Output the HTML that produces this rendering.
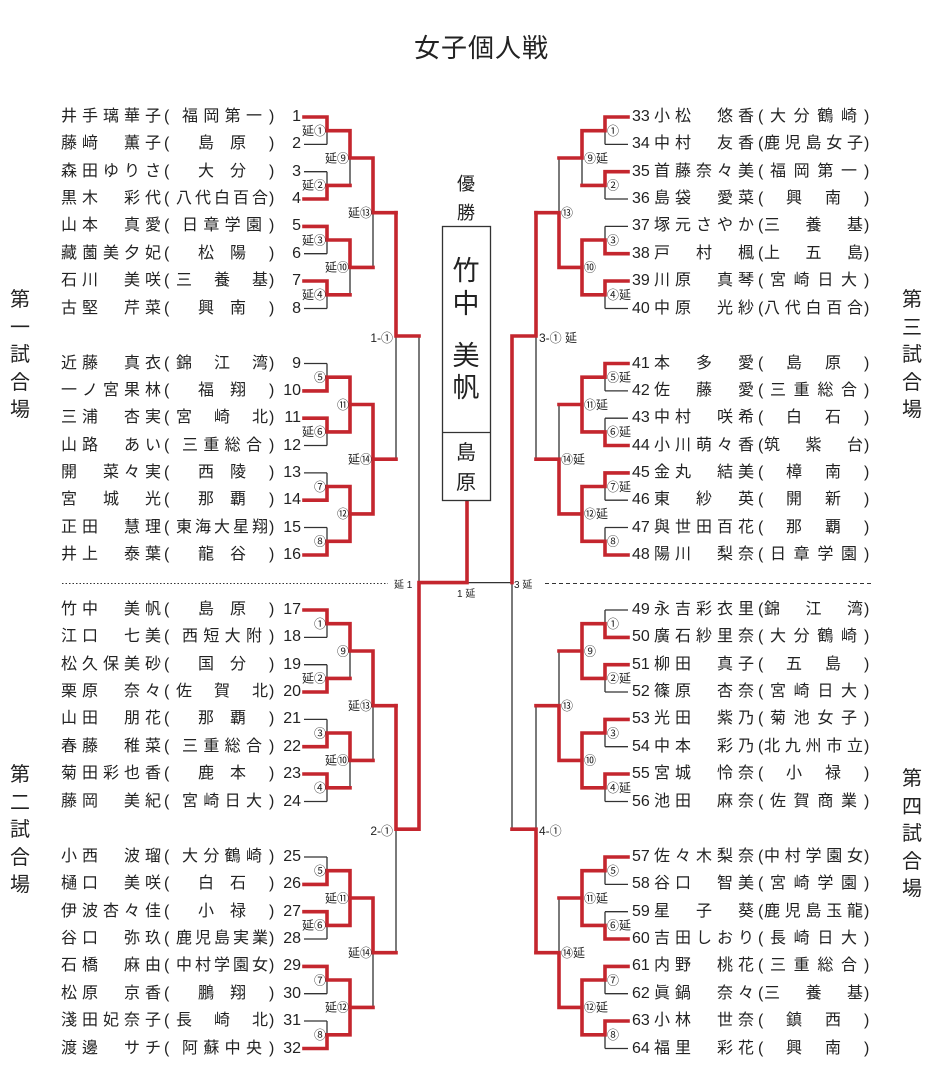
<!DOCTYPE html>
<html lang="ja"><head><meta charset="utf-8">
<style>
html,body{margin:0;padding:0;background:#fff;}
body{width:941px;height:1077px;position:relative;overflow:hidden;font-family:"Liberation Sans","Noto Sans CJK JP",sans-serif;color:#222;}
svg{position:absolute;left:0;top:0;}
.r{position:absolute;left:0;width:941px;height:22px;line-height:22px;font-size:16px;}
.r span{position:absolute;top:0;display:block;}
.n,.s{text-align:justify;text-align-last:justify;}
.L .n{left:61px;width:100px;}
.L .o{left:164px;}
.L .s{left:176px;width:92px;box-sizing:border-box;}
.L .c{left:269px;}
.L .u{left:276px;width:25px;text-align:right;}
.R .u{left:632px;}
.R .n{left:654px;width:100px;}
.R .o{left:758px;}
.R .s{left:764px;width:99px;box-sizing:border-box;}
.R .c{left:864px;}
.s.s2{padding:0 22px;}
.s.s4{padding:0 6px;}
.side{position:absolute;font-size:20px;line-height:27.5px;width:24px;text-align:center;}
</style></head><body>
<div style="position:absolute;left:0;width:941px;top:28px;text-align:center;font-size:26px;letter-spacing:1px;padding-left:22px;box-sizing:border-box;">女子個人戦</div>

<div class="side" style="left:8px;top:287px;">第<br>一<br>試<br>合<br>場</div>
<div class="side" style="left:8px;top:762px;">第<br>二<br>試<br>合<br>場</div>
<div class="side" style="left:900px;top:287px;">第<br>三<br>試<br>合<br>場</div>
<div class="side" style="left:900px;top:766px;">第<br>四<br>試<br>合<br>場</div>

<svg width="941" height="1077" viewBox="0 0 941 1077">
<defs>
<path id="st" d="M304,0H327M304,27.4H327M304,54.7H327M304,82H327M304,109.4H327M304,136.7H327M304,164H327M304,191.5H327M327,0V27.4M327,54.7V82M327,109.4V136.7M327,164V191.5M350,13.7V68.4M350,123V177.8M373,41V150.4" fill="none" stroke="#333" stroke-width="1.3"/>
</defs>
<g fill="none" stroke="#333" stroke-width="1.3">
<use href="#st" transform="translate(0,117)"/>
<use href="#st" transform="translate(0,363.5)"/>
<use href="#st" transform="translate(0,610)"/>
<use href="#st" transform="translate(0,857)"/>
<use href="#st" transform="translate(932,117) scale(-1,1)"/>
<use href="#st" transform="translate(932,363.5) scale(-1,1)"/>
<use href="#st" transform="translate(932,610) scale(-1,1)"/>
<use href="#st" transform="translate(932,857) scale(-1,1)"/>
<path d="M396,212.7V459.2M396,705.7V952.7M419,336V829.2M536,212.7V459.2M536,705.7V952.7M512,336V829.2M512,582.6H467"/>
</g>
<g fill="none" stroke="#333" stroke-width="1">
<path d="M62,583.5H388" stroke-dasharray="1.5,2"/>
<path d="M545,583.5H872" stroke-dasharray="4,3"/>
</g>
<g fill="none" stroke="#c4262e" stroke-width="3.6" stroke-linejoin="miter" stroke-linecap="square">
<path transform="translate(0,117)" d="M304,0H327V13.7H350 M304,82H327V68.4H350 M304,109.4H327V123H350 M304,164H327V177.8H350 M350,13.7V41H373 M350,123V150.4H373 M373,41V95.7H396"/>
<path transform="translate(0,363.5)" d="M304,27.4H327V13.7H350 M304,54.7H327V68.4H350 M304,136.7H327V123H350 M304,191.5H327V177.8H350 M350,13.7V68.4M350,41H373 M350,123V177.8M350,150.4H373 M373,41V150.4M373,95.7H396"/>
<path transform="translate(0,610)" d="M304,0H327V13.7H350 M304,82H327V68.4H350 M304,136.7H327V123H350 M304,164H327V177.8H350 M350,13.7V41H373 M350,123V150.4H373 M373,41V95.7H396"/>
<path transform="translate(0,857)" d="M304,27.4H327V13.7H350 M304,54.7H327V68.4H350 M304,109.4H327V123H350 M304,191.5H327V177.8H350 M350,13.7V68.4M350,41H373 M350,123V177.8M350,150.4H373 M373,41V95.7H396"/>
<path transform="translate(932,117) scale(-1,1)" d="M304,0H327V13.7H350 M304,54.7H327V68.4H350 M304,136.7H327V123H350 M304,164H327V177.8H350 M350,13.7V41H373 M350,123V177.8M350,150.4H373 M373,150.4V95.7H396"/>
<path transform="translate(932,363.5) scale(-1,1)" d="M304,0H327V13.7H350 M304,82H327V68.4H350 M304,109.4H327V123H350 M304,191.5H327V177.8H350 M350,13.7V68.4M350,41H373 M350,123V177.8M350,150.4H373 M373,150.4V95.7H396"/>
<path transform="translate(932,610) scale(-1,1)" d="M304,27.4H327V13.7H350 M304,54.7H327V68.4H350 M304,109.4H327V123H350 M304,164H327V177.8H350 M350,13.7V68.4M350,41H373 M350,123V177.8M350,150.4H373 M373,150.4V95.7H396"/>
<path transform="translate(932,857) scale(-1,1)" d="M304,0H327V13.7H350 M304,82H327V68.4H350 M304,109.4H327V123H350 M304,164H327V177.8H350 M350,13.7V68.4M350,41H373 M350,123V177.8M350,150.4H373 M373,150.4V95.7H396"/>
<path d="M396,212.7V336H419 M396,705.7V829.2H419 M419,829.2V582.6H467V500 M536,212.7V336H512 M536,952.7V829.2H512 M512,336V582.6"/>
</g>
<rect x="442.5" y="226.5" width="48" height="274" fill="#fff" stroke="#333" stroke-width="1.3"/>
<line x1="442.5" y1="432.5" x2="490.5" y2="432.5" stroke="#333" stroke-width="1.3"/>
<g font-family="Liberation Sans,Noto Sans CJK JP,sans-serif" fill="#222">
<text x="466" y="190" font-size="18" text-anchor="middle">優</text>
<text x="466" y="219" font-size="18" text-anchor="middle">勝</text>
<text x="466" y="280" font-size="27" text-anchor="middle">竹</text>
<text x="466" y="313" font-size="27" text-anchor="middle">中</text>
<text x="466" y="365" font-size="27" text-anchor="middle">美</text>
<text x="466" y="397" font-size="27" text-anchor="middle">帆</text>
<text x="466" y="459" font-size="20" text-anchor="middle">島</text>
<text x="466" y="489" font-size="20" text-anchor="middle">原</text>
</g>
<g font-family="Liberation Sans,Noto Sans CJK JP,sans-serif" fill="#222" font-size="12">
<text x="393" y="342" text-anchor="end">1-①</text>
<text x="393" y="835" text-anchor="end">2-①</text>
<text x="539" y="342">3-① 延</text>
<text x="539" y="835">4-①</text>
<text x="394" y="588" font-size="10">延 1</text>
<text x="457" y="597" font-size="10">1 延</text>
<text x="514" y="588" font-size="10">3 延</text>
</g>
<g font-family="Liberation Sans,Noto Sans CJK JP,sans-serif" fill="#222" font-size="12">
<g text-anchor="end" transform="translate(0,117)"><text x="326" y="18">延①</text><text x="326" y="72.7">延②</text><text x="326" y="127.3">延③</text><text x="326" y="182">延④</text><text x="349" y="45.3">延⑨</text><text x="349" y="154.7">延⑩</text><text x="372" y="100">延⑬</text></g>
<g text-anchor="end" transform="translate(0,363.5)"><text x="326" y="18">⑤</text><text x="326" y="72.7">延⑥</text><text x="326" y="127.3">⑦</text><text x="326" y="182">⑧</text><text x="349" y="45.3">⑪</text><text x="349" y="154.7">⑫</text><text x="372" y="100">延⑭</text></g>
<g text-anchor="end" transform="translate(0,610)"><text x="326" y="18">①</text><text x="326" y="72.7">延②</text><text x="326" y="127.3">③</text><text x="326" y="182">④</text><text x="349" y="45.3">⑨</text><text x="349" y="154.7">延⑩</text><text x="372" y="100">延⑬</text></g>
<g text-anchor="end" transform="translate(0,857)"><text x="326" y="18">⑤</text><text x="326" y="72.7">延⑥</text><text x="326" y="127.3">⑦</text><text x="326" y="182">⑧</text><text x="349" y="45.3">延⑪</text><text x="349" y="154.7">延⑫</text><text x="372" y="100">延⑭</text></g>
<g transform="translate(0,117)"><text x="607" y="18">①</text><text x="607" y="72.7">②</text><text x="607" y="127.3">③</text><text x="607" y="182">④延</text><text x="584" y="45.3">⑨延</text><text x="584" y="154.7">⑩</text><text x="561" y="100">⑬</text></g>
<g transform="translate(0,363.5)"><text x="607" y="18">⑤延</text><text x="607" y="72.7">⑥延</text><text x="607" y="127.3">⑦延</text><text x="607" y="182">⑧</text><text x="584" y="45.3">⑪延</text><text x="584" y="154.7">⑫延</text><text x="561" y="100">⑭延</text></g>
<g transform="translate(0,610)"><text x="607" y="18">①</text><text x="607" y="72.7">②延</text><text x="607" y="127.3">③</text><text x="607" y="182">④延</text><text x="584" y="45.3">⑨</text><text x="584" y="154.7">⑩</text><text x="561" y="100">⑬</text></g>
<g transform="translate(0,857)"><text x="607" y="18">⑤</text><text x="607" y="72.7">⑥延</text><text x="607" y="127.3">⑦</text><text x="607" y="182">⑧</text><text x="584" y="45.3">⑪延</text><text x="584" y="154.7">⑫延</text><text x="561" y="100">⑭延</text></g>
</g>
</svg>

<div class="r L" style="top:106px"><span class="n">井手璃華子</span><span class="o">(</span><span class="s s4">福岡第一</span><span class="c">)</span><span class="u">1</span></div>
<div class="r L" style="top:133.4px"><span class="n">藤﨑　薫子</span><span class="o">(</span><span class="s s2">島原</span><span class="c">)</span><span class="u">2</span></div>
<div class="r L" style="top:160.7px"><span class="n">森田ゆりさ</span><span class="o">(</span><span class="s s2">大分</span><span class="c">)</span><span class="u">3</span></div>
<div class="r L" style="top:188px"><span class="n">黒木　彩代</span><span class="o">(</span><span class="s">八代白百合</span><span class="c">)</span><span class="u">4</span></div>
<div class="r L" style="top:215.4px"><span class="n">山本　真愛</span><span class="o">(</span><span class="s s4">日章学園</span><span class="c">)</span><span class="u">5</span></div>
<div class="r L" style="top:242.7px"><span class="n">藏薗美夕妃</span><span class="o">(</span><span class="s s2">松陽</span><span class="c">)</span><span class="u">6</span></div>
<div class="r L" style="top:270px"><span class="n">石川　美咲</span><span class="o">(</span><span class="s">三養基</span><span class="c">)</span><span class="u">7</span></div>
<div class="r L" style="top:297.5px"><span class="n">古堅　芹菜</span><span class="o">(</span><span class="s s2">興南</span><span class="c">)</span><span class="u">8</span></div>

<div class="r L" style="top:352.5px"><span class="n">近藤　真衣</span><span class="o">(</span><span class="s">錦江湾</span><span class="c">)</span><span class="u">9</span></div>
<div class="r L" style="top:379.9px"><span class="n">一ノ宮果林</span><span class="o">(</span><span class="s s2">福翔</span><span class="c">)</span><span class="u">10</span></div>
<div class="r L" style="top:407.2px"><span class="n">三浦　杏実</span><span class="o">(</span><span class="s">宮崎北</span><span class="c">)</span><span class="u">11</span></div>
<div class="r L" style="top:434.5px"><span class="n">山路　あい</span><span class="o">(</span><span class="s s4">三重総合</span><span class="c">)</span><span class="u">12</span></div>
<div class="r L" style="top:461.9px"><span class="n">開　菜々実</span><span class="o">(</span><span class="s s2">西陵</span><span class="c">)</span><span class="u">13</span></div>
<div class="r L" style="top:489.2px"><span class="n">宮　城　光</span><span class="o">(</span><span class="s s2">那覇</span><span class="c">)</span><span class="u">14</span></div>
<div class="r L" style="top:516.5px"><span class="n">正田　慧理</span><span class="o">(</span><span class="s">東海大星翔</span><span class="c">)</span><span class="u">15</span></div>
<div class="r L" style="top:544px"><span class="n">井上　泰葉</span><span class="o">(</span><span class="s s2">龍谷</span><span class="c">)</span><span class="u">16</span></div>

<div class="r L" style="top:599px"><span class="n">竹中　美帆</span><span class="o">(</span><span class="s s2">島原</span><span class="c">)</span><span class="u">17</span></div>
<div class="r L" style="top:626.4px"><span class="n">江口　七美</span><span class="o">(</span><span class="s s4">西短大附</span><span class="c">)</span><span class="u">18</span></div>
<div class="r L" style="top:653.7px"><span class="n">松久保美砂</span><span class="o">(</span><span class="s s2">国分</span><span class="c">)</span><span class="u">19</span></div>
<div class="r L" style="top:681px"><span class="n">栗原　奈々</span><span class="o">(</span><span class="s">佐賀北</span><span class="c">)</span><span class="u">20</span></div>
<div class="r L" style="top:708.4px"><span class="n">山田　朋花</span><span class="o">(</span><span class="s s2">那覇</span><span class="c">)</span><span class="u">21</span></div>
<div class="r L" style="top:735.7px"><span class="n">春藤　稚菜</span><span class="o">(</span><span class="s s4">三重総合</span><span class="c">)</span><span class="u">22</span></div>
<div class="r L" style="top:763px"><span class="n">菊田彩也香</span><span class="o">(</span><span class="s s2">鹿本</span><span class="c">)</span><span class="u">23</span></div>
<div class="r L" style="top:790.5px"><span class="n">藤岡　美紀</span><span class="o">(</span><span class="s s4">宮崎日大</span><span class="c">)</span><span class="u">24</span></div>

<div class="r L" style="top:846px"><span class="n">小西　波瑠</span><span class="o">(</span><span class="s s4">大分鶴崎</span><span class="c">)</span><span class="u">25</span></div>
<div class="r L" style="top:873.4px"><span class="n">樋口　美咲</span><span class="o">(</span><span class="s s2">白石</span><span class="c">)</span><span class="u">26</span></div>
<div class="r L" style="top:900.7px"><span class="n">伊波杏々佳</span><span class="o">(</span><span class="s s2">小禄</span><span class="c">)</span><span class="u">27</span></div>
<div class="r L" style="top:928px"><span class="n">谷口　弥玖</span><span class="o">(</span><span class="s">鹿児島実業</span><span class="c">)</span><span class="u">28</span></div>
<div class="r L" style="top:955.4px"><span class="n">石橋　麻由</span><span class="o">(</span><span class="s">中村学園女</span><span class="c">)</span><span class="u">29</span></div>
<div class="r L" style="top:982.7px"><span class="n">松原　京香</span><span class="o">(</span><span class="s s2">鵬翔</span><span class="c">)</span><span class="u">30</span></div>
<div class="r L" style="top:1010px"><span class="n">淺田妃奈子</span><span class="o">(</span><span class="s">長崎北</span><span class="c">)</span><span class="u">31</span></div>
<div class="r L" style="top:1037.5px"><span class="n">渡邊　サチ</span><span class="o">(</span><span class="s s4">阿蘇中央</span><span class="c">)</span><span class="u">32</span></div>

<div class="r R" style="top:106px"><span class="u">33</span><span class="n">小松　悠香</span><span class="o">(</span><span class="s s4">大分鶴崎</span><span class="c">)</span></div>
<div class="r R" style="top:133.4px"><span class="u">34</span><span class="n">中村　友香</span><span class="o">(</span><span class="s">鹿児島女子</span><span class="c">)</span></div>
<div class="r R" style="top:160.7px"><span class="u">35</span><span class="n">首藤奈々美</span><span class="o">(</span><span class="s s4">福岡第一</span><span class="c">)</span></div>
<div class="r R" style="top:188px"><span class="u">36</span><span class="n">島袋　愛菜</span><span class="o">(</span><span class="s s2">興南</span><span class="c">)</span></div>
<div class="r R" style="top:215.4px"><span class="u">37</span><span class="n">塚元さやか</span><span class="o">(</span><span class="s">三養基</span><span class="c">)</span></div>
<div class="r R" style="top:242.7px"><span class="u">38</span><span class="n">戸　村　楓</span><span class="o">(</span><span class="s">上五島</span><span class="c">)</span></div>
<div class="r R" style="top:270px"><span class="u">39</span><span class="n">川原　真琴</span><span class="o">(</span><span class="s s4">宮崎日大</span><span class="c">)</span></div>
<div class="r R" style="top:297.5px"><span class="u">40</span><span class="n">中原　光紗</span><span class="o">(</span><span class="s">八代白百合</span><span class="c">)</span></div>

<div class="r R" style="top:352.5px"><span class="u">41</span><span class="n">本　多　愛</span><span class="o">(</span><span class="s s2">島原</span><span class="c">)</span></div>
<div class="r R" style="top:379.9px"><span class="u">42</span><span class="n">佐　藤　愛</span><span class="o">(</span><span class="s s4">三重総合</span><span class="c">)</span></div>
<div class="r R" style="top:407.2px"><span class="u">43</span><span class="n">中村　咲希</span><span class="o">(</span><span class="s s2">白石</span><span class="c">)</span></div>
<div class="r R" style="top:434.5px"><span class="u">44</span><span class="n">小川萌々香</span><span class="o">(</span><span class="s">筑紫台</span><span class="c">)</span></div>
<div class="r R" style="top:461.9px"><span class="u">45</span><span class="n">金丸　結美</span><span class="o">(</span><span class="s s2">樟南</span><span class="c">)</span></div>
<div class="r R" style="top:489.2px"><span class="u">46</span><span class="n">東　紗　英</span><span class="o">(</span><span class="s s2">開新</span><span class="c">)</span></div>
<div class="r R" style="top:516.5px"><span class="u">47</span><span class="n">與世田百花</span><span class="o">(</span><span class="s s2">那覇</span><span class="c">)</span></div>
<div class="r R" style="top:544px"><span class="u">48</span><span class="n">陽川　梨奈</span><span class="o">(</span><span class="s s4">日章学園</span><span class="c">)</span></div>

<div class="r R" style="top:599px"><span class="u">49</span><span class="n">永吉彩衣里</span><span class="o">(</span><span class="s">錦江湾</span><span class="c">)</span></div>
<div class="r R" style="top:626.4px"><span class="u">50</span><span class="n">廣石紗里奈</span><span class="o">(</span><span class="s s4">大分鶴崎</span><span class="c">)</span></div>
<div class="r R" style="top:653.7px"><span class="u">51</span><span class="n">柳田　真子</span><span class="o">(</span><span class="s s2">五島</span><span class="c">)</span></div>
<div class="r R" style="top:681px"><span class="u">52</span><span class="n">篠原　杏奈</span><span class="o">(</span><span class="s s4">宮崎日大</span><span class="c">)</span></div>
<div class="r R" style="top:708.4px"><span class="u">53</span><span class="n">光田　紫乃</span><span class="o">(</span><span class="s s4">菊池女子</span><span class="c">)</span></div>
<div class="r R" style="top:735.7px"><span class="u">54</span><span class="n">中本　彩乃</span><span class="o">(</span><span class="s">北九州市立</span><span class="c">)</span></div>
<div class="r R" style="top:763px"><span class="u">55</span><span class="n">宮城　怜奈</span><span class="o">(</span><span class="s s2">小禄</span><span class="c">)</span></div>
<div class="r R" style="top:790.5px"><span class="u">56</span><span class="n">池田　麻奈</span><span class="o">(</span><span class="s s4">佐賀商業</span><span class="c">)</span></div>

<div class="r R" style="top:846px"><span class="u">57</span><span class="n">佐々木梨奈</span><span class="o">(</span><span class="s">中村学園女</span><span class="c">)</span></div>
<div class="r R" style="top:873.4px"><span class="u">58</span><span class="n">谷口　智美</span><span class="o">(</span><span class="s s4">宮崎学園</span><span class="c">)</span></div>
<div class="r R" style="top:900.7px"><span class="u">59</span><span class="n">星　子　葵</span><span class="o">(</span><span class="s">鹿児島玉龍</span><span class="c">)</span></div>
<div class="r R" style="top:928px"><span class="u">60</span><span class="n">吉田しおり</span><span class="o">(</span><span class="s s4">長崎日大</span><span class="c">)</span></div>
<div class="r R" style="top:955.4px"><span class="u">61</span><span class="n">内野　桃花</span><span class="o">(</span><span class="s s4">三重総合</span><span class="c">)</span></div>
<div class="r R" style="top:982.7px"><span class="u">62</span><span class="n">眞鍋　奈々</span><span class="o">(</span><span class="s">三養基</span><span class="c">)</span></div>
<div class="r R" style="top:1010px"><span class="u">63</span><span class="n">小林　世奈</span><span class="o">(</span><span class="s s2">鎮西</span><span class="c">)</span></div>
<div class="r R" style="top:1037.5px"><span class="u">64</span><span class="n">福里　彩花</span><span class="o">(</span><span class="s s2">興南</span><span class="c">)</span></div>
</body></html>
